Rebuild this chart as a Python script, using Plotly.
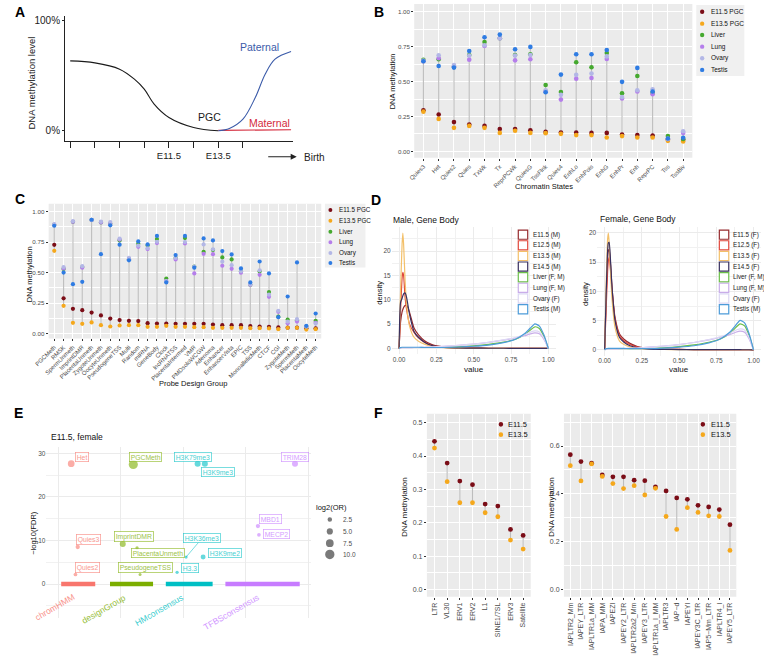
import plotly.graph_objects as go

W, H = 764, 658
FONT = "Liberation Sans, Arial, sans-serif"
TXT = "#4D4D4D"

# ---------------- panel A : schematic (x in developmental ticks, y in %) ----------------
a_pgc_x = [0.0, 1.0, 2.0, 2.6, 3.0, 3.4, 4.0, 5.0, 6.0]
a_pgc_y = [63.6, 61.8, 56.1, 47.0, 37.9, 24.3, 12.1, 3.0, 0.0]
a_pat_x = [6.0, 6.45, 7.0, 7.5, 7.9, 8.3, 8.95]
a_pat_y = [0.0, 2.1, 10.6, 30.3, 51.5, 65.2, 72.1]
a_mat_x = [6.0, 8.95]
a_mat_y = [0.4, 0.9]
a_tick_text = ["", "", "", "", "E11.5", "", "E13.5", ""]

# ---------------- panel B : chromatin states ----------------
b_states = ["Quies3", "Het", "Quies2", "Quies", "TxWk", "Tx", "ReprPCWk", "QuiesG", "TssFlnk",
            "Quies4", "EnhLo", "EnhPois", "EnhG", "EnhPr", "Enh", "ReprPC", "Tss", "TssBiv"]
b_e115 = [0.295, 0.264, 0.21, 0.193, 0.183, 0.16, 0.16, 0.152, 0.14, 0.136, 0.136, 0.133, 0.133,
          0.121, 0.117, 0.114, 0.086, 0.083]
b_e135 = [0.285, 0.233, 0.169, 0.183, 0.169, 0.133, 0.148, 0.133, 0.131, 0.126, 0.117, 0.117, 0.10,
          0.11, 0.10, 0.10, 0.076, 0.071]
b_liver = [0.655, 0.66, 0.605, 0.69, 0.783, 0.81, 0.69, 0.695, 0.476, 0.426, 0.638, 0.602, 0.705,
           0.417, 0.54, 0.42, 0.11, 0.09]
b_lung = [0.645, 0.667, 0.61, 0.657, 0.755, 0.81, 0.652, 0.66, 0.43, 0.371, 0.521, 0.526, 0.662,
          0.379, 0.429, 0.41, 0.09, 0.133]
b_ovary = [0.65, 0.688, 0.619, 0.686, 0.76, 0.81, 0.686, 0.69, 0.438, 0.405, 0.548, 0.557, 0.68,
           0.39, 0.438, 0.445, 0.09, 0.145]
b_testis = [0.645, 0.612, 0.60, 0.719, 0.817, 0.836, 0.731, 0.748, 0.424, 0.55, 0.695, 0.695, 0.726,
            0.498, 0.598, 0.429, 0.093, 0.098]

# ---------------- panel C : probe design groups ----------------
c_groups = ["PGCMeth", "RMSK", "SpermUnmeth", "ImprintDMR", "PlacentaUnmeth", "ZygoteUnmeth",
            "OocyteUnmeth", "PseudogeneTSS", "Multi", "Random", "miRNA", "GeneBody", "Clock",
            "lncRNATSS", "PlacentaIntermed", "VMR", "PMDsoloWCGW", "Adenoma", "Enhancer",
            "EnhancerVista", "EPIC", "TSS", "MonoallelicMeth", "CTCF", "CGI", "ZygoteMeth",
            "SpermMeth", "PlacentaMeth", "OocyteMeth"]
c_e115 = [0.727, 0.29, 0.204, 0.193, 0.174, 0.15, 0.125, 0.112, 0.106, 0.104, 0.087, 0.084, 0.084,
          0.082, 0.082, 0.082, 0.082, 0.076, 0.071, 0.071, 0.071, 0.063, 0.06, 0.057, 0.052, 0.05,
          0.05, 0.045, 0.045]
c_e135 = [0.678, 0.229, 0.09, 0.082, 0.093, 0.071, 0.06, 0.068, 0.071, 0.071, 0.057, 0.057, 0.065,
          0.057, 0.057, 0.054, 0.054, 0.049, 0.049, 0.049, 0.049, 0.046, 0.046, 0.044, 0.038, 0.049,
          0.049, 0.035, 0.038]
c_liver = [0.89, 0.53, 0.915, 0.545, 0.93, 0.91, 0.90, 0.763, 0.61, 0.736, 0.722, 0.774, 0.452,
           0.62, 0.782, 0.55, 0.67, 0.684, 0.624, 0.608, 0.51, 0.40, 0.51, 0.341, 0.14, 0.117,
           0.11, 0.06, 0.106]
c_lung = [0.89, 0.534, 0.915, 0.54, 0.93, 0.91, 0.90, 0.77, 0.61, 0.711, 0.692, 0.741, 0.43, 0.608,
          0.738, 0.493, 0.654, 0.651, 0.556, 0.531, 0.499, 0.40, 0.482, 0.302, 0.18, 0.087, 0.10,
          0.06, 0.09]
c_ovary = [0.896, 0.545, 0.92, 0.553, 0.93, 0.916, 0.913, 0.777, 0.621, 0.72, 0.70, 0.752, 0.43,
           0.62, 0.75, 0.55, 0.73, 0.69, 0.589, 0.561, 0.512, 0.403, 0.518, 0.32, 0.188, 0.10,
           0.12, 0.06, 0.084]
c_testis = [0.883, 0.50, 0.406, 0.425, 0.932, 0.651, 0.886, 0.728, 0.60, 0.755, 0.73, 0.80, 0.42,
            0.643, 0.80, 0.54, 0.779, 0.763, 0.676, 0.649, 0.534, 0.42, 0.591, 0.493, 0.136,
            0.305, 0.583, 0.065, 0.166]

# ---------------- panel D : gene body densities ----------------
d_value = [0.0, 0.01, 0.02, 0.025, 0.03, 0.04, 0.05, 0.07, 0.10, 0.13, 0.17, 0.22, 0.30, 0.40,
           0.50, 0.60, 0.70, 0.78, 0.84, 0.88, 0.91, 0.94, 0.97, 1.0]
d_e115_m = [0, 5.5, 7.5, 8.0, 8.4, 8.8, 8.9, 7.4, 4.2, 2.8, 1.6, 0.8, 0.3, 0.12, 0.07, 0.05, 0.04,
            0.03, 0.03, 0.03, 0.02, 0.02, 0.01, 0]
d_e125_m = [0, 8, 14.5, 15.6, 15.0, 10.5, 8, 5, 3.3, 2.2, 1.3, 0.6, 0.2, 0.1, 0.06, 0.05, 0.04,
            0.03, 0.03, 0.03, 0.02, 0.02, 0.01, 0]
d_e135_m = [0, 12, 21.5, 23.7, 21.5, 14, 9, 4.6, 2.3, 1.5, 0.9, 0.45, 0.15, 0.08, 0.05, 0.04, 0.03,
            0.03, 0.02, 0.02, 0.02, 0.01, 0.01, 0]
d_e145_m = [0, 9.5, 10.3, 10.8, 11.2, 11.4, 10.5, 7.0, 3.5, 2.3, 1.3, 0.6, 0.2, 0.1, 0.06, 0.05,
            0.04, 0.03, 0.03, 0.03, 0.02, 0.02, 0.01, 0]
d_e115_f = [0, 9, 15.5, 17.0, 17.2, 14.5, 10.5, 5.5, 2.7, 1.8, 1.1, 0.55, 0.2, 0.1, 0.06, 0.05,
            0.04, 0.03, 0.03, 0.03, 0.02, 0.02, 0.01, 0]
d_e125_f = [0, 7, 13.5, 15.2, 15.8, 13.5, 10, 5.2, 2.4, 1.5, 0.9, 0.45, 0.18, 0.1, 0.06, 0.05,
            0.04, 0.03, 0.03, 0.03, 0.02, 0.02, 0.01, 0]
d_e135_f = [0, 11, 19, 20, 18.5, 13, 8.5, 3.8, 1.5, 0.9, 0.5, 0.25, 0.1, 0.06, 0.04, 0.03, 0.03,
            0.02, 0.02, 0.02, 0.02, 0.01, 0.01, 0]
d_e145_f = [0, 9.5, 17, 18.3, 18.4, 15, 10.5, 5, 2.1, 1.3, 0.7, 0.35, 0.12, 0.07, 0.05, 0.04, 0.03,
            0.03, 0.02, 0.02, 0.02, 0.01, 0.01, 0]
d_liver = [0, 0.15, 0.2, 0.2, 0.2, 0.2, 0.2, 0.2, 0.2, 0.2, 0.2, 0.2, 0.25, 0.35, 0.55, 0.85, 1.3,
           1.9, 2.8, 3.8, 4.45, 4.1, 2.5, 0]
d_lung = [0, 0.1, 0.15, 0.15, 0.15, 0.15, 0.15, 0.15, 0.2, 0.2, 0.25, 0.3, 0.45, 0.65, 0.9, 1.25,
          1.7, 2.15, 2.6, 3.0, 3.2, 3.0, 1.9, 0]
d_ovary = [0, 0.1, 0.15, 0.15, 0.15, 0.15, 0.15, 0.15, 0.2, 0.2, 0.25, 0.3, 0.45, 0.65, 0.9, 1.25,
           1.75, 2.25, 2.85, 3.35, 3.6, 3.4, 2.1, 0]
d_testis = [0, 0.2, 0.25, 0.25, 0.25, 0.25, 0.25, 0.25, 0.25, 0.25, 0.2, 0.2, 0.2, 0.3, 0.45, 0.7,
            1.2, 1.9, 3.0, 4.2, 5.05, 4.6, 2.8, 0]
d_names_m = ["E11.5 (M)", "E12.5 (M)", "E13.5 (M)", "E14.5 (M)", "Liver (F, M)", "Lung (F, M)",
             "Ovary (F)", "Testis (M)"]
d_names_f = ["E11.5 (F)", "E12.5 (F)", "E13.5 (F)", "E14.5 (F)", "Liver (F, M)", "Lung (F, M)",
             "Ovary (F)", "Testis (M)"]

# ---------------- panel E : enrichment, E11.5 female ----------------
e_labels = ["Het", "Quies3", "Quies2", "PGCMeth", "ImprintDMR", "PlacentaUnmeth", "PseudogeneTSS",
            "H3K79me3", "H3K9me3", "H3K36me3", "H3K9me2", "H3.3", "TRIM28", "MBD1", "MECP2"]
e_group = ["chromHMM"] * 3 + ["designGroup"] * 4 + ["HMconsensus"] * 5 + ["TFBSconsensus"] * 3
e_rank = [5.2, 7.8, 6.9, 30.0, 25.8, 31.5, 32.7, 55.7, 58.6, 51.1, 57.9, 47.5, 94.6, 79.8, 80.2]
e_fdr = [27.6, 8.5, 2.2, 27.4, 9.2, 8.3, 2.2, 27.6, 27.6, 6.2, 6.2, 2.7, 27.6, 13.3, 11.3]
e_log2or = [5.7, 2.0, 1.1, 9.4, 4.6, 0.5, 0.0, 4.6, 4.6, 0.2, 3.0, 0.4, 4.6, 2.0, 1.1]
e_bar_groups = ["chromHMM", "designGroup", "HMconsensus", "TFBSconsensus"]
e_bar_start = [1.2, 20.7, 43.0, 66.8]
e_bar_end = [14.8, 37.9, 61.7, 96.5]
e_size_breaks = [2.5, 5.0, 7.5, 10.0]

# ---------------- panel F : repeats ----------------
f_fam = ["LTR", "VL30", "ERV1", "ERV2", "L1", "SINE1/7SL", "ERV3", "Satellite"]
f_fam_e115 = [0.444, 0.379, 0.325, 0.314, 0.256, 0.25, 0.18, 0.162]
f_fam_e135 = [0.424, 0.323, 0.26, 0.26, 0.23, 0.218, 0.148, 0.121]
f_iap = ["IAPLTR2_Mm", "IAPEY_LTR", "IAPLTR1a_MM", "IAPA_MM", "IAPEZI", "IAPEY2_LTR",
         "IAPLTR2a2_Mm", "IAPEY3_LTR", "IAPLTR1a_I_MM", "IAPLTR3", "IAP\u2212d", "IAPEYI",
         "IAPEY3C_LTR", "IAP5\u2212Mm_LTR", "IAPLTR4_I", "IAPEY5_LTR"]
f_iap_e115 = [0.564, 0.535, 0.528, 0.479, 0.471, 0.471, 0.457, 0.455, 0.429, 0.412, 0.383, 0.377,
              0.352, 0.345, 0.334, 0.271]
f_iap_e135 = [0.518, 0.454, 0.525, 0.473, 0.443, 0.422, 0.434, 0.395, 0.423, 0.305, 0.251, 0.342,
              0.322, 0.308, 0.305, 0.163]

# ---------------- styles ----------------
TISSUE_COL = {"E11.5 PGC": "#7B0D17", "E13.5 PGC": "#F5A81C", "Liver": "#45A92F",
              "Lung": "#B57EEB", "Ovary": "#B3B7E6", "Testis": "#2F7CE3"}
D_COL = ["#962B2E", "#E0473B", "#F3C06A", "#38305F", "#6DBF4B", "#C9ADE9", "#DCD7F4", "#4D9CD9"]
E_COL = {"chromHMM": "#F8766D", "designGroup": "#7CAE00", "HMconsensus": "#00BFC4",
         "TFBSconsensus": "#C77CFF"}


def dx(a, b):
    return [a / W, b / W]


def dy(top, bottom):
    return [1 - bottom / H, 1 - top / H]


def e_size(v):
    return 3 + 0.65 * v


fig = go.Figure()
annotations = []
shapes = []


def txt(s, x, y, size, color="#000", angle=0, xa="center", ya="middle"):
    annotations.append(dict(text=s, x=x / W, y=1 - y / H, xref="paper", yref="paper",
                            showarrow=False, textangle=angle, xanchor=xa, yanchor=ya,
                            font=dict(size=size, color=color, family=FONT)))


def circle(cx, cy, d, color, opacity=1.0):
    r = d / 2
    shapes.append(dict(type="circle", xref="paper", yref="paper", x0=(cx - r) / W, x1=(cx + r) / W,
                       y0=1 - (cy + r) / H, y1=1 - (cy - r) / H, fillcolor=color,
                       line=dict(width=0), opacity=opacity))


def rect(x0, y0, x1, y1, fill, line_col=None, lw=0):
    shapes.append(dict(type="rect", xref="paper", yref="paper", x0=x0 / W, x1=x1 / W,
                       y0=1 - y1 / H, y1=1 - y0 / H, fillcolor=fill, layer="below",
                       line=dict(color=line_col or fill, width=lw)))


# ---- A ----
for xs, ys, col in [(a_pgc_x, a_pgc_y, "#1a1a1a"), (a_mat_x, a_mat_y, "#D42A3C"),
                    (a_pat_x, a_pat_y, "#3B5BA9")]:
    fig.add_trace(go.Scatter(x=xs, y=ys, mode="lines", xaxis="x", yaxis="y",
                             line=dict(color=col, width=1.1, shape="spline", smoothing=1.0)))


# ---- B / C lollipops ----
def lollipop(cats, series, xa, ya, msize):
    seg_x, seg_y = [], []
    for i, c in enumerate(cats):
        vals = [v[i] for v in series.values()]
        seg_x += [c, c, None]
        seg_y += [min(vals), max(vals), None]
    fig.add_trace(go.Scatter(x=seg_x, y=seg_y, mode="lines", xaxis=xa, yaxis=ya,
                             line=dict(color="#BDBDBD", width=1.1)))
    for name, vals in series.items():
        fig.add_trace(go.Scatter(x=cats, y=vals, mode="markers", xaxis=xa, yaxis=ya, name=name,
                                 marker=dict(color=TISSUE_COL[name], size=msize, line=dict(width=0))))


lollipop(b_states, {"E11.5 PGC": b_e115, "E13.5 PGC": b_e135, "Liver": b_liver, "Lung": b_lung,
                    "Ovary": b_ovary, "Testis": b_testis}, "x2", "y2", 4.6)
lollipop(c_groups, {"E11.5 PGC": c_e115, "E13.5 PGC": c_e135, "Liver": c_liver, "Lung": c_lung,
                    "Ovary": c_ovary, "Testis": c_testis}, "x3", "y3", 4.2)

# ---- D densities ----
male = [d_e115_m, d_e125_m, d_e135_m, d_e145_m, d_liver, d_lung, d_ovary, d_testis]
female = [d_e115_f, d_e125_f, d_e135_f, d_e145_f, d_liver, d_lung, d_ovary, d_testis]
for curves, names, xa, ya in [(male, d_names_m, "x4", "y4"), (female, d_names_f, "x5", "y5")]:
    for ys, nm, col in zip(curves, names, D_COL):
        fig.add_trace(go.Scatter(x=d_value, y=ys, mode="lines", name=nm, xaxis=xa, yaxis=ya,
                                 line=dict(color=col, width=1.2, shape="spline", smoothing=0.6)))

# ---- E enrichment ----
for g, s, e in zip(e_bar_groups, e_bar_start, e_bar_end):
    fig.add_trace(go.Scatter(x=[s, e], y=[0, 0], mode="lines", xaxis="x6", yaxis="y6",
                             line=dict(color=E_COL[g], width=4.5)))
fig.add_trace(go.Scatter(x=e_rank, y=e_fdr, mode="markers", xaxis="x6", yaxis="y6",
                         marker=dict(color=[E_COL[g] for g in e_group],
                                     size=[e_size(v) for v in e_log2or], opacity=0.6,
                                     line=dict(width=0))))

# ---- F repeats ----
for cats, v1, v2, xa, ya in [(f_fam, f_fam_e115, f_fam_e135, "x7", "y7"),
                             (f_iap, f_iap_e115, f_iap_e135, "x8", "y8")]:
    seg_x, seg_y = [], []
    for c, a, b in zip(cats, v1, v2):
        seg_x += [c, c, None]
        seg_y += [a, b, None]
    fig.add_trace(go.Scatter(x=seg_x, y=seg_y, mode="lines", xaxis=xa, yaxis=ya,
                             line=dict(color="#BDBDBD", width=1.1)))
    fig.add_trace(go.Scatter(x=cats, y=v1, mode="markers", xaxis=xa, yaxis=ya,
                             marker=dict(color=TISSUE_COL["E11.5 PGC"], size=4.8)))
    fig.add_trace(go.Scatter(x=cats, y=v2, mode="markers", xaxis=xa, yaxis=ya,
                             marker=dict(color=TISSUE_COL["E13.5 PGC"], size=4.8)))


# ---------------- axes ----------------
def gg_x(dom, anchor, rng, cats, angle, size):
    return dict(domain=dom, anchor=anchor, range=rng, type="category", categoryorder="array",
                categoryarray=cats, tickangle=angle, showgrid=True, gridcolor="white",
                gridwidth=0.9, ticks="outside", ticklen=2, tickwidth=0.6, tickcolor="#333",
                tickfont=dict(size=size, color=TXT, family=FONT), zeroline=False, showline=False)


def gg_y(dom, anchor, rng, dtick, fmt, size):
    return dict(domain=dom, anchor=anchor, range=rng, dtick=dtick, tick0=0, tickformat=fmt,
                showgrid=True, gridcolor="white", gridwidth=0.9,
                minor=dict(dtick=dtick / 2, tick0=0, showgrid=True, gridcolor="white",
                           gridwidth=0.45),
                ticks="outside", ticklen=2, tickwidth=0.6, tickcolor="#333",
                tickfont=dict(size=size, color=TXT, family=FONT), zeroline=False, showline=False)


def min_axis(dom, anchor, rng, dtick, fmt, minor_dtick, labels=True):
    m = dict(domain=dom, anchor=anchor, range=rng, dtick=dtick, tick0=0, tickformat=fmt,
             showgrid=True, gridcolor="#EBEBEB", gridwidth=0.8, ticks="",
             showticklabels=labels, tickfont=dict(size=6.5, color=TXT, family=FONT),
             zeroline=False, showline=False)
    if minor_dtick:
        m["minor"] = dict(dtick=minor_dtick, tick0=0, showgrid=True, gridcolor="#F1F1F1",
                          gridwidth=0.5)
    return m


layout_axes = dict(
    xaxis=dict(domain=dx(52, 284), anchor="y", range=[-0.21, 9.02], showline=True,
               linecolor="#222", linewidth=1, ticks="outside", ticklen=6, tickwidth=1,
               tickcolor="#222", tickvals=list(range(8)), ticktext=a_tick_text,
               tickfont=dict(size=9.5, color="#222", family=FONT), showgrid=False,
               zeroline=False),
    yaxis=dict(domain=dy(15, 140), anchor="x", range=[-9.09, 104.5], showline=True,
               linecolor="#222", linewidth=1, ticks="outside", ticklen=2, tickwidth=1,
               tickcolor="#222", tickvals=[0, 100], ticktext=["0%", "100%"],
               tickfont=dict(size=10, color="#222", family=FONT), showgrid=False,
               zeroline=False),
    xaxis2=gg_x(dx(407.7, 691.0), "y2", [-0.6, 17.6], b_states, -45, 6),
    yaxis2=gg_y(dy(3, 157), "x2", [-0.045, 1.055], 0.25, ".2f", 6.2),
    xaxis3=gg_x(dx(35.3, 313.0), "y3", [-0.6, 28.6], c_groups, -45, 6),
    yaxis3=gg_y(dy(203, 338), "x3", [-0.038, 1.063], 0.25, ".2f", 6.2),
    xaxis4=min_axis(dx(384.7, 551.9), "y4", [-0.05, 1.05], 0.25, ".2f", 0.125),
    yaxis4=min_axis(dy(226.5, 353.8), "x4", [-1.19, 24.9], 5, "d", 2.5),
    xaxis5=min_axis(dx(594.1, 760.9), "y5", [-0.05, 1.05], 0.25, ".2f", 0.125),
    yaxis5=min_axis(dy(226.5, 355.2), "x5", [-1.0, 21.0], 5, "d", 2.5),
    xaxis6=min_axis(dx(33, 303), "y6", [-4.71, 101.18], 25, "d", None, labels=False),
    yaxis6=min_axis(dy(446.7, 618.3), "x6", [-7.85, 31.42], 10, "d", 5),
    xaxis7=gg_x(dx(420.6, 526.4), "y7", [-0.6, 7.6], f_fam, -90, 7),
    yaxis7=gg_y(dy(413.3, 596.7), "x7", [-0.022, 0.527], 0.1, ".1f", 7),
    xaxis8=gg_x(dx(560.2, 735.8), "y8", [-0.6, 15.6], f_iap, -90, 7),
    yaxis8=gg_y(dy(413.3, 596.7), "x8", [-0.031, 0.7355], 0.2, ".1f", 7),
)

# gray ggplot panels
for n in ["2", "3", "7", "8"]:
    shapes.append(dict(type="rect", xref="x%s domain" % n, yref="y%s domain" % n, x0=0, x1=1,
                       y0=0, y1=1, fillcolor="#EBEBEB", line=dict(width=0), layer="below"))

# ---------------- text ----------------
for s, x, y in [("A", 6, 11), ("B", 372, 11), ("C", 6, 198), ("D", 369, 199),
                ("E", 5, 413), ("F", 371, 413)]:
    txt("<b>%s</b>" % s, x, y, 14)

# A
txt("DNA methylation level", 18, 82, 9.5, "#222", -90)
txt("Paternal", 250.5, 46, 10.5, "#3B5BA9")
txt("Maternal", 260, 121.7, 10.5, "#D42A3C")
txt("PGC", 199.5, 115.7, 10.5, "#1a1a1a")
txt("Birth", 293, 157, 10, "#222", xa="left")
annotations.append(dict(text="", x=288 / W, y=1 - 156 / H, xref="paper", yref="paper",
                        showarrow=True, ax=-30, ay=0, arrowhead=2, arrowsize=1.1,
                        arrowwidth=1.1, arrowcolor="#222"))

# B / C titles and legends
txt("DNA methylation", 385.5, 80, 7.5, "#111", -90)
txt("Chromatin States", 540, 186, 7.5, "#111")
txt("DNA methylation", 16, 274, 7.5, "#111", -90)
txt("Probe Design Group", 182, 383, 7.5, "#111")
tissues = list(TISSUE_COL.keys())
rect(695, 4, 744, 75, "#F0F0F0")
for nm, y in zip(tissues, [10.7, 22.7, 34, 45.7, 57.3, 69]):
    circle(701, y, 4.4, TISSUE_COL[nm])
    txt(nm, 708.3, y, 6.5, "#111", xa="left")
rect(316.7, 203, 358, 267, "#F0F0F0")
for nm, y in zip(tissues, [209.3, 220, 231, 241.7, 252.3, 262.3]):
    circle(322.3, y, 4.0, TISSUE_COL[nm])
    txt(nm, 329, y, 6.3, "#111", xa="left")

# D
txt("Male, Gene Body", 384, 219, 8.5, "#111", xa="left")
txt("Female, Gene Body", 595, 218, 8.5, "#111", xa="left")
txt("value", 468.5, 369, 8, "#111")
txt("value", 677.5, 369, 8, "#111")
txt("density", 372, 292, 7.5, "#111", -90)
txt("density", 582, 293, 7.5, "#111", -90)
d_leg_y = [234, 244.7, 255.3, 266, 276.7, 287.3, 298, 308.7]
for kx, tx, names in [(518.5, 526.7, d_names_m), (723.3, 730.7, d_names_f)]:
    for nm, col, y in zip(names, D_COL, d_leg_y):
        shapes.append(dict(type="rect", xref="paper", yref="paper", x0=(kx - 4.8) / W,
                           x1=(kx + 4.8) / W, y0=1 - (y + 4.6) / H, y1=1 - (y - 4.6) / H,
                           fillcolor="white", line=dict(color=col, width=1.2)))
        txt(nm, tx, y, 6.3, "#222", xa="left")

# E
txt("E11.5, female", 36, 437, 8.5, "#111", xa="left")
txt("\u2212log10(FDR)", 20, 533, 7.5, "#111", -90)
for g, xr in zip(e_bar_groups, [8.5, 28.8, 51.8, 82.0]):
    annotations.append(dict(text=g, x=xr, y=-1.2, xref="x6", yref="y6", showarrow=False,
                            textangle=-30, xanchor="right", yanchor="top",
                            font=dict(size=8.5, color=E_COL[g], family=FONT), opacity=0.8))
e_offsets = {"Het": (10.7, -6.3), "Quies3": (11, -7.5), "Quies2": (12.3, -7.3),
             "PGCMeth": (12.3, -7.8), "ImprintDMR": (11.5, -7.2), "PlacentaUnmeth": (21.3, 5.3),
             "PseudogeneTSS": (5.3, -7.3), "H3K79me3": (-4.7, -6.8), "H3K9me3": (13, 8.2),
             "H3K36me3": (16.3, -19.2), "H3K9me2": (21.7, -4), "H3.3": (12.8, -4.8),
             "TRIM28": (0.2, -6.8), "MBD1": (12.7, -7.5), "MECP2": (17.2, -1.2)}
for lab, g, xv, yv in zip(e_labels, e_group, e_rank, e_fdr):
    ox, oy = e_offsets[lab]
    seg = lab == "H3K36me3"
    annotations.append(dict(text=lab, x=xv, y=yv, xref="x6", yref="y6", showarrow=True,
                            ax=ox, ay=oy, arrowhead=0, arrowwidth=0.7,
                            arrowcolor=E_COL[g] if seg else "rgba(0,0,0,0)",
                            bgcolor="white", bordercolor=E_COL[g], borderwidth=0.7, borderpad=1,
                            opacity=0.75, font=dict(size=6.8, color=E_COL[g], family=FONT)))
txt("log2(OR)", 306, 507, 7.5, "#111", xa="left")
for v, y in zip(e_size_breaks, [519.3, 531.3, 543, 554.3]):
    circle(321.7, y, e_size(v), "#6B6B6B", 0.9)
    txt("%.1f" % v, 333, y, 6.5, TXT, xa="left")

# F
txt("DNA methylation", 398.3, 506.7, 8, "#111", -90)
txt("DNA methylation", 548, 506.7, 8, "#111", -90)
for kx, tx in [(496, 501.5), (701.7, 708)]:
    for nm, lab, y in [("E11.5 PGC", "E11.5", 424), ("E13.5 PGC", "E13.5", 434.3)]:
        circle(kx, y, 4.6, TISSUE_COL[nm])
        txt(lab, tx, y, 7.5, "#111", xa="left")

fig.update_traces(showlegend=False, hoverinfo="skip")
fig.update_layout(width=W, height=H, margin=dict(l=0, r=0, t=0, b=0), autosize=False,
                  paper_bgcolor="white", plot_bgcolor="rgba(0,0,0,0)",
                  font=dict(family=FONT), showlegend=False,
                  annotations=annotations, shapes=shapes, **layout_axes)
# the page body has a default 8px margin; drop it so the figure fills the window exactly
fig.write_html("out.html", config={"displayModeBar": False},
               post_script="document.body.style.margin='0';")
